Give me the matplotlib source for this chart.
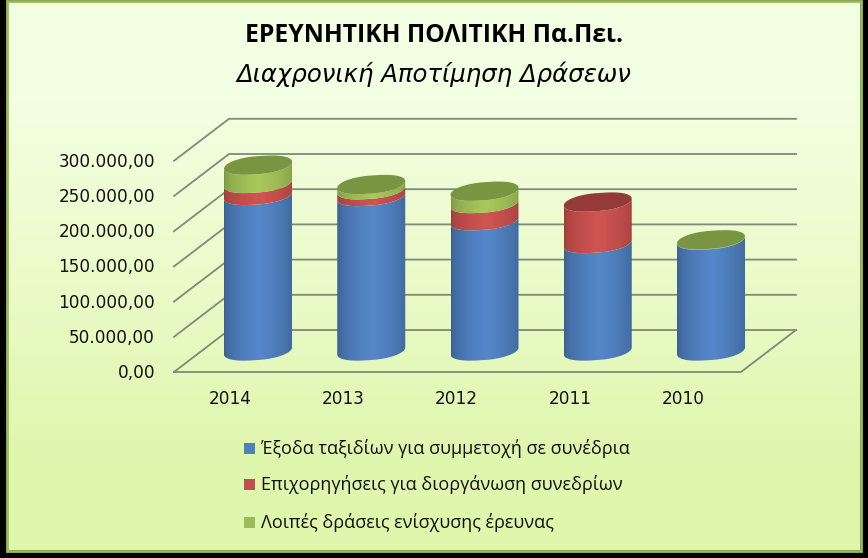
import numpy as np
import matplotlib
matplotlib.use("Agg")
import matplotlib.pyplot as plt
from matplotlib.patches import PathPatch, Rectangle
from matplotlib.path import Path

# --- data ---
years = ["2014", "2013", "2012", "2011", "2010"]
travel = [221000, 219500, 185000, 152700, 157500]
grants = [17000, 9500, 24500, 58900, 0]
other = [26000, 7500, 17500, 0, 500]
series_names = [
    "Έξοδα ταξιδίων για συμμετοχή σε συνέδρια",
    "Επιχορηγήσεις για διοργάνωση συνεδρίων",
    "Λοιπές δράσεις ενίσχυσης έρευνας",
]
tick_values = [0, 50000, 100000, 150000, 200000, 250000, 300000]
tick_labels = ["0,00", "50.000,00", "100.000,00", "150.000,00",
               "200.000,00", "250.000,00", "300.000,00"]

W, H = 868, 558
PX_PER_VAL = 35.2 / 50000   # vertical pixels for one unit of value
STEP = 113.25               # pixels between categories
X0_PX, Y0_PX = 258, 351     # where first category / value 0 sit (mid depth)

plt.rcParams["font.family"] = ["Open Sans", "DejaVu Sans"]

fig = plt.figure(figsize=(W / 100, H / 100), dpi=100, facecolor="black")

# background card with border
bg = fig.add_axes([0, 0, 1, 1], zorder=0)
bg.set_xlim(0, W)
bg.set_ylim(H, 0)
bg.axis("off")
grad = np.array([[0.955, 1.0, 0.89], [0.92, 0.985, 0.79], [0.875, 0.965, 0.68]])
card = bg.imshow(grad[:, None, :], extent=(8, 860, 550, 2), aspect="auto",
                 interpolation="bilinear")
bg.set_xlim(0, W)
bg.set_ylim(H, 0)
bg.add_patch(Rectangle((7, 1), 854, 550, fill=False, ec="#9bbb59", lw=2))

# main axes: x in category index, y in value, covering the whole figure
ax = fig.add_axes([0, 0, 1, 1], zorder=1)
ax.patch.set_alpha(0)
xlim = ((0 - X0_PX) / STEP, (W - X0_PX) / STEP)
ylim = ((Y0_PX - H) / PX_PER_VAL, Y0_PX / PX_PER_VAL)
ax.set_xlim(xlim)
ax.set_ylim(ylim)
ax.axis("off")

# depth of the 3d floor, in data units
DX = 27.5 / STEP
DY = 21 / PX_PER_VAL
X_LEFT = (201.5 - X0_PX) / STEP
X_RIGHT = (768.5 - X0_PX) / STEP
GRID = "#7f8a78"

for v, lab in zip(tick_values, tick_labels):
    ax.plot([X_LEFT - DX, X_LEFT + DX, X_RIGHT + DX],
            [v - DY, v + DY, v + DY], color=GRID, lw=1.3, zorder=1,
            solid_joinstyle="miter")
    ax.text(X_LEFT - DX - 19 / STEP, v - DY - 1 / PX_PER_VAL, lab,
            ha="right", va="center", fontsize=12.2, color="#111111",
            family="DejaVu Sans")
# floor front edge and right side
ax.plot([X_LEFT - DX, X_RIGHT - DX, X_RIGHT + DX], [-DY, -DY, DY],
        color=GRID, lw=1.3, zorder=1)

# cylinder shape, in data units
A = 34 / STEP
B = 9 / PX_PER_VAL
S = 3.5 / PX_PER_VAL
IM_N = 64


def rim(cx, v, t):
    # slightly squared ellipse, the right end sits a bit higher than the left
    c = np.cos(t)
    return cx + A * np.sign(c) * np.abs(c) ** 0.85, v + B * np.sin(t) + S * c


def shade(rgb_edge, rgb_mid):
    pos = np.linspace(0, 1, IM_N)
    w = np.clip(1 - np.abs(pos - 0.52) / 0.52, 0, 1) ** 0.5
    edge = np.array(matplotlib.colors.to_rgb(rgb_edge))
    mid = np.array(matplotlib.colors.to_rgb(rgb_mid))
    return (edge[None, :] * (1 - w[:, None]) + mid[None, :] * w[:, None])[None, :, :]


STYLES = [("#39608f", "#5587ca", "#3f6797"),
          ("#9c3d3b", "#cf5552", "#943b39"),
          ("#7c9746", "#a9c95b", "#7a9541")]

ts_front = np.linspace(np.pi, 2 * np.pi, 60)
ts_all = np.linspace(0, 2 * np.pi, 120)

for i in range(len(years)):
    base = 0
    stack = [travel[i], grants[i], other[i]]
    top_idx = max(k for k in range(3) if stack[k] > 0)
    for k, val in enumerate(stack):
        if val <= 0:
            continue
        top = base + val
        xb, yb = rim(i, base, ts_front)
        xt, yt = rim(i, top, ts_front[::-1])
        verts = np.column_stack([np.r_[xb, xt], np.r_[yb, yt]])
        clip = Path(np.vstack([verts, verts[0]]), closed=True)
        im = ax.imshow(shade(STYLES[k][0], STYLES[k][1]),
                       extent=(i - A, i + A, ylim[0], ylim[1]),
                       aspect="auto", interpolation="bilinear", zorder=3 + k)
        patch = PathPatch(clip, transform=ax.transData, fc="none", ec="none")
        ax.add_patch(patch)
        im.set_clip_path(patch)
        base = top
    xe, ye = rim(i, base, ts_all)
    ax.fill(xe, ye, color=STYLES[top_idx][2], lw=0, zorder=7)

ax.set_xlim(xlim)
ax.set_ylim(ylim)

# category labels
for i, year in enumerate(years):
    ax.text(i - 28 / STEP, (Y0_PX - 399) / PX_PER_VAL, year, ha="center",
            va="center", fontsize=12.2, color="#111111", family="DejaVu Sans")

# overlay in pixel coordinates for the title and legend
bg_text = fig.add_axes([0, 0, 1, 1], zorder=2)
bg_text.set_xlim(0, W)
bg_text.set_ylim(H, 0)
bg_text.axis("off")
bg_text.patch.set_alpha(0)
bg_text.text(434, 35, "ΕΡΕΥΝΗΤΙΚΗ ΠΟΛΙΤΙΚΗ Πα.Πει.", ha="center", va="center",
             fontsize=17.7, fontweight="bold", color="black")
bg_text.text(434, 74, "Διαχρονική Αποτίμηση Δράσεων", ha="center", va="center",
             fontsize=17.6, fontstyle="italic", color="black",
             family="DejaVu Sans")

legend_y = [448, 484, 522]
legend_colors = ["#4f81bd", "#c0504d", "#9bbb59"]
for name, y, c in zip(series_names, legend_y, legend_colors):
    bg_text.add_patch(Rectangle((244, y - 5.5), 11, 11, fc=c, ec="none"))
    bg_text.text(261, y + 1, name, ha="left", va="center", fontsize=13,
                 color="#111111")

fig.savefig("out.png", dpi=100, facecolor="black")
